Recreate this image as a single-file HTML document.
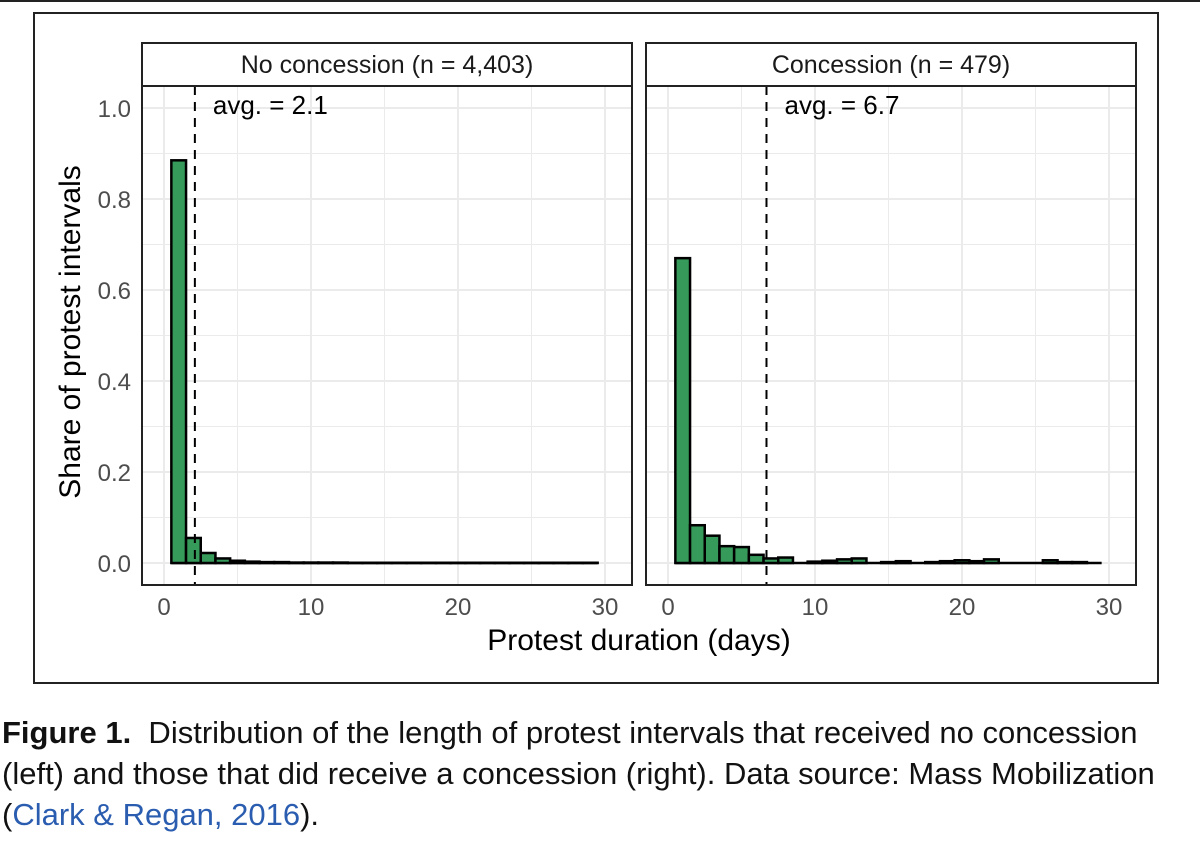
<!DOCTYPE html>
<html><head><meta charset="utf-8"><style>
body{margin:0;background:#fff;width:1200px;height:843px;overflow:hidden;font-family:"Liberation Sans",sans-serif}
.cap{position:absolute;left:0;top:712px;font-size:31px;line-height:41px;color:#111;font-family:"Liberation Sans",sans-serif;letter-spacing:0px;white-space:nowrap}
.cap a{color:#2a5db0;text-decoration:none}
</style></head><body>
<div style="position:absolute;left:0;top:0;width:1200px;height:2px;background:#222"></div>
<svg id="chart" width="1200" height="700" style="position:absolute;left:0;top:0" font-family="Liberation Sans, sans-serif">
<rect x="34" y="13" width="1124" height="670" fill="none" stroke="#222" stroke-width="2"/>
<g id="panels"></g>
<text transform="translate(80,332) rotate(-90)" text-anchor="middle" font-size="30" fill="#000">Share of protest intervals</text>
<text x="639" y="650" text-anchor="middle" font-size="30" fill="#000">Protest duration (days)</text>
</svg>
<div class="cap" style="left:2px"><b>Figure 1.</b>&nbsp; Distribution of the length of protest intervals that received no concession<br>(left) and those that did receive a concession (right). Data source: Mass Mobilization<br>(<a>Clark &amp; Regan, 2016</a>).</div>
<script>
const panelTitles=["No concession (n = 4,403)","Concession (n = 479)"];
const averages=[2.1,6.7];
const noConcession=[0.885,0.055,0.022,0.010,0.005,0.003,0.002,0.002,0.001,0.001,0.001,0.001,0.0005,0.0005,0.0005,0.0005,0.0005,0.0005,0.0005,0.0005,0.0005,0.0005,0.0005,0.0005,0.0005,0.0005,0.0005,0.0005,0.0005];
const concession=[0.67,0.083,0.06,0.037,0.035,0.018,0.01,0.012,0,0.003,0.005,0.008,0.01,0,0.002,0.004,0,0.002,0.004,0.006,0.004,0.008,0,0,0,0.006,0.002,0.002,0];
const xTicks=[0,10,20,30];
const yTicks=[0,0.2,0.4,0.6,0.8,1.0];
const series=[noConcession,concession];
const NS="http://www.w3.org/2000/svg";
const g=document.getElementById('panels');
function mk(t,a,p){const e=document.createElementNS(NS,t);for(const k in a)e.setAttribute(k,a[k]);(p||g).appendChild(e);return e;}
const y=v=>563-v*455;
[142,646].forEach((px,pi)=>{
  const x=v=>px+22+v*14.7;
  const pg=mk('g',{});
  
  
  for(let v=0;v<=30;v+=5){const l=mk('line',{x1:x(v),x2:x(v),y1:86,y2:585,stroke:'#ebebeb','stroke-width':v%10?1:2},pg);}
  for(let v=0;v<=1.05;v+=0.1){const l=mk('line',{x1:px,x2:px+490,y1:y(v),y2:y(v),stroke:'#ebebeb','stroke-width':Math.round(v*10)%2?1:2},pg);}
  const data=series[pi];
  const bl=mk('line',{x1:x(0.5),x2:x(data.length+0.5),y1:y(0),y2:y(0),stroke:'#000','stroke-width':2.5},pg);
  
  data.forEach((v,i)=>{const r=mk('rect',{x:x(i+0.5),y:y(v),width:14.7,height:Math.max(0,y(0)-y(v)),fill:'#369a5a',stroke:'#000','stroke-width':2.5},pg);});
  const al=mk('line',{x1:x(averages[pi]),x2:x(averages[pi]),y1:86,y2:585,stroke:'#000','stroke-width':2,'stroke-dasharray':'9,7'},pg);
  
  const at=mk('text',{x:x(averages[pi])+18,y:114,'font-size':26,fill:'#000'},pg);at.textContent='avg. = '+averages[pi];
  
  const b=mk('rect',{x:px,y:86,width:490,height:499,fill:'none',stroke:'#222','stroke-width':2},pg);
  const s=mk('rect',{x:px,y:43,width:490,height:43,fill:'#fff',stroke:'#222','stroke-width':2},pg);
  const st=mk('text',{x:px+245,y:73,'text-anchor':'middle','font-size':25,fill:'#1a1a1a'},pg);st.textContent=panelTitles[pi];
  
  xTicks.forEach(v=>{const t=mk('text',{x:x(v),y:615,'text-anchor':'middle','font-size':24,fill:'#4d4d4d'},pg);t.textContent=v;});
});
yTicks.forEach(v=>{const t=mk('text',{x:131,y:y(v)+9,'text-anchor':'end','font-size':24,fill:'#4d4d4d'});t.textContent=v.toFixed(1);});
</script>
</body></html>
